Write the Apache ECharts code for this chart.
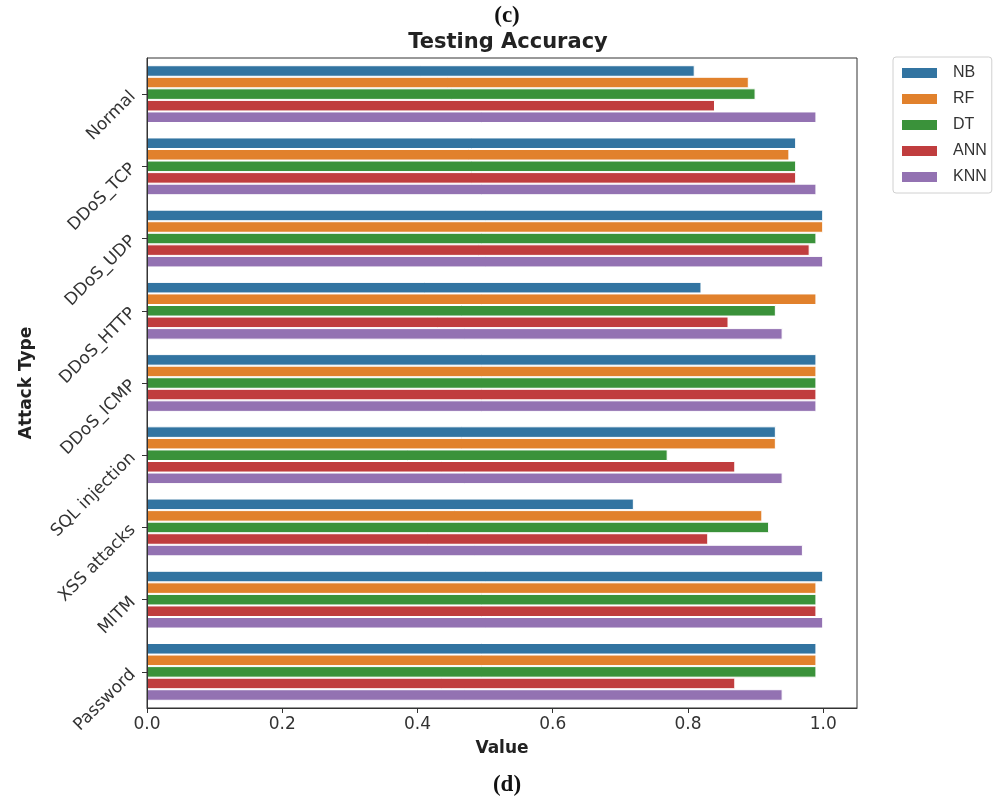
<!DOCTYPE html>
<html>
<head>
<meta charset="utf-8">
<title>Testing Accuracy</title>
<script src="https://cdn.jsdelivr.net/npm/echarts@6/dist/echarts.min.js"></script>
<style>
  html, body { margin: 0; padding: 0; background: #fff; }
  #chart { width: 999px; height: 798px; }
</style>
</head>
<body>
<div id="chart"></div>
<script>
// Attack categories, top to bottom
const categories = ['Normal', 'DDoS_TCP', 'DDoS_UDP', 'DDoS_HTTP', 'DDoS_ICMP',
                    'SQL injection', 'XSS attacks', 'MITM', 'Password'];

// Testing accuracy per classifier, in category order
const nbValues  = [0.81, 0.96, 1.00, 0.82, 0.99, 0.93, 0.72, 1.00, 0.99];
const rfValues  = [0.89, 0.95, 1.00, 0.99, 0.99, 0.93, 0.91, 0.99, 0.99];
const dtValues  = [0.90, 0.96, 0.99, 0.93, 0.99, 0.77, 0.92, 0.99, 0.99];
const annValues = [0.84, 0.96, 0.98, 0.86, 0.99, 0.87, 0.83, 0.99, 0.87];
const knnValues = [0.99, 0.99, 1.00, 0.94, 0.99, 0.94, 0.97, 1.00, 0.94];

// Value axis tick positions
const xTicks = [0.0, 0.2, 0.4, 0.6, 0.8, 1.0];

const seriesDefs = [
  { name: 'NB',  data: nbValues,  color: '#3274a1' },
  { name: 'RF',  data: rfValues,  color: '#e1812c' },
  { name: 'DT',  data: dtValues,  color: '#3a923a' },
  { name: 'ANN', data: annValues, color: '#c03d3e' },
  { name: 'KNN', data: knnValues, color: '#9372b2' }
];

const FONT = 'DejaVu Sans';
const chart = echarts.init(document.getElementById('chart'), null, { renderer: 'canvas' });

chart.setOption({
  animation: false,
  backgroundColor: '#ffffff',
  title: [
    {
      text: '(c)', left: 502, top: 0, textAlign: 'center',
      textStyle: { fontFamily: 'Liberation Serif', fontSize: 23, fontWeight: 'bold', color: '#111' }
    },
    {
      text: 'Testing Accuracy', left: 503, top: 27, textAlign: 'center',
      textStyle: { fontFamily: FONT, fontSize: 21, fontWeight: 'bold', color: '#222' }
    },
    {
      text: '(d)', left: 502, top: 769, textAlign: 'center',
      textStyle: { fontFamily: 'Liberation Serif', fontSize: 23, fontWeight: 'bold', color: '#111' }
    }
  ],
  legend: {
    orient: 'vertical',
    left: 893,
    top: 57,
    padding: [8, 5, 8, 9],
    itemWidth: 35,
    itemHeight: 10,
    itemGap: 10,
    itemStyle: { borderWidth: 0 },
    borderColor: '#d0d0d0',
    borderWidth: 1,
    borderRadius: 3,
    textStyle: { fontFamily: 'Liberation Sans', fontSize: 16, color: '#333', padding: [0, 0, 0, 11] },
    data: seriesDefs.map(s => ({ name: s.name, icon: 'rect' }))
  },
  grid: {
    left: 147, right: 142, top: 58, bottom: 90,
    show: true, borderColor: '#333', borderWidth: 1, backgroundColor: '#fff'
  },
  xAxis: {
    type: 'value',
    min: 0,
    max: 1.05,
    z: 5,
    name: 'Value',
    nameLocation: 'middle',
    nameGap: 32,
    nameTextStyle: { fontFamily: FONT, fontSize: 17, fontWeight: 'bold', color: '#222' },
    axisLine: { show: true, lineStyle: { color: '#333', width: 1 } },
    axisTick: { show: true, length: 5, lineStyle: { color: '#333' }, customValues: xTicks },
    axisLabel: {
      customValues: xTicks,
      margin: 8,
      fontFamily: FONT, fontSize: 17, color: '#333',
      formatter: v => v.toFixed(1)
    },
    splitLine: { show: false }
  },
  yAxis: {
    type: 'category',
    inverse: true,
    data: categories,
    z: 5,
    name: 'Attack Type',
    nameLocation: 'middle',
    nameRotate: 90,
    nameGap: 112,
    nameTextStyle: { fontFamily: FONT, fontSize: 17, fontWeight: 'bold', color: '#222' },
    axisLine: { show: true, lineStyle: { color: '#333', width: 1 } },
    axisTick: { show: true, alignWithLabel: true, length: 5, lineStyle: { color: '#333' } },
    axisLabel: {
      rotate: 45, margin: 14,
      fontFamily: FONT, fontSize: 17, color: '#333'
    },
    splitLine: { show: false }
  },
  series: seriesDefs.map(s => ({
    name: s.name,
    type: 'bar',
    data: s.data,
    barGap: '0%',
    barCategoryGap: '20%',
    itemStyle: { color: s.color, borderColor: '#ffffff', borderWidth: 1 },
    emphasis: { disabled: true }
  }))
});
</script>
</body>
</html>
